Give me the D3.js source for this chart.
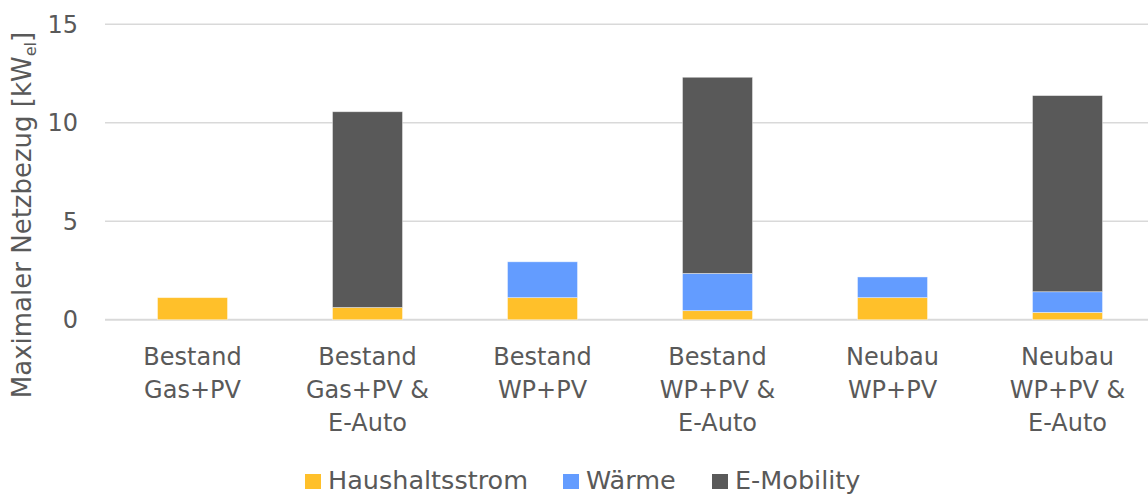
<!DOCTYPE html>
<html>
<head>
<meta charset="utf-8">
<script src="https://cdn.jsdelivr.net/npm/d3@7"></script>
<style>
  body { margin: 0; background: #fff; }
  text { font-family: "DejaVu Sans", sans-serif; fill: #595959; }
</style>
</head>
<body>
<script>
// chart data
var categories = [
    ["Bestand", "Gas+PV"],
    ["Bestand", "Gas+PV &", "E-Auto"],
    ["Bestand", "WP+PV"],
    ["Bestand", "WP+PV &", "E-Auto"],
    ["Neubau", "WP+PV"],
    ["Neubau", "WP+PV &", "E-Auto"]
];
var seriesNames = ["Haushaltsstrom", "Wärme", "E-Mobility"];
var haushaltsstrom = [1.12, 0.62, 1.12, 0.46, 1.12, 0.37];
var waerme = [0, 0, 1.82, 1.89, 1.05, 1.05];
var eMobility = [0, 9.94, 0, 9.96, 0, 9.96];
var yTicks = [0, 5, 10, 15];

var colors = ["#FFC02A", "#639CFF", "#595959"];

var width = 1148, height = 496;

var svg = d3.select("body").append("svg")
    .attr("width", width)
    .attr("height", height);

//build rows for the stack
var rows = categories.map(function(c, i){
    return { key: i, "Haushaltsstrom": haushaltsstrom[i], "Wärme": waerme[i], "E-Mobility": eMobility[i] };
});

var x = d3.scaleBand()
    .domain(d3.range(categories.length))
    .range([105, 1155])
    .paddingInner(0.6)
    .paddingOuter(0.3);

var y = d3.scaleLinear()
    .domain([0, 15])
    .range([319.7, 24.3]);

//gridlines
svg.selectAll(".grid")
    .data(yTicks)
    .enter()
    .append("line")
    .attr("class", "grid")
    .attr("x1", 105)
    .attr("x2", width)
    .attr("y1", function(d){ return y(d); })
    .attr("y2", function(d){ return y(d); })
    .attr("stroke", "#D9D9D9")
    .attr("stroke-width", function(d){ return d === 0 ? 2 : 1.4; });

//y tick labels
svg.selectAll(".ytick")
    .data(yTicks)
    .enter()
    .append("text")
    .attr("class", "ytick")
    .attr("x", 78)
    .attr("y", function(d){ return y(d); })
    .attr("dy", "0.36em")
    .attr("text-anchor", "end")
    .style("font-size", "24px")
    .text(function(d){ return d; });

//y axis title
var title = svg.append("text")
    .attr("transform", "translate(31,215) rotate(-90)")
    .attr("text-anchor", "middle")
    .style("font-size", "26px");
title.append("tspan").text("Maximaler Netzbezug [kW");
title.append("tspan").attr("dy", 5).style("font-size", "16px").text("el");
title.append("tspan").attr("dy", -5).text("]");

//stacked bars
var stack = d3.stack().keys(seriesNames);
var layers = svg.selectAll(".layer")
    .data(stack(rows))
    .enter()
    .append("g")
    .attr("class", "layer")
    .attr("fill", function(d, i){ return colors[i]; });

layers.selectAll("rect")
    .data(function(d){ return d.filter(function(s){ return s[1] - s[0] > 0; }); })
    .enter()
    .append("rect")
    .attr("x", function(d){ return x(d.data.key); })
    .attr("width", x.bandwidth())
    .attr("y", function(d){ return y(d[1]); })
    .attr("height", function(d){ return y(d[0]) - y(d[1]); })
    .attr("stroke", "#fff")
    .attr("stroke-opacity", 0.5)
    .attr("stroke-width", 0.8);

//category labels
var cat = svg.selectAll(".cat")
    .data(categories)
    .enter()
    .append("text")
    .attr("class", "cat")
    .attr("text-anchor", "middle")
    .style("font-size", "24px");

cat.selectAll("tspan")
    .data(function(d, i){ return d.map(function(t){ return { t: t, i: i }; }); })
    .enter()
    .append("tspan")
    .attr("x", function(d){ return x(d.i) + x.bandwidth() / 2; })
    .attr("y", function(d, j){ return 365 + j * 33; })
    .text(function(d){ return d.t; });

//legend
var legendX = [305, 563, 712];
var legend = svg.selectAll(".legend")
    .data(seriesNames)
    .enter()
    .append("g")
    .attr("class", "legend")
    .attr("transform", function(d, i){ return "translate(" + legendX[i] + ",0)"; });

legend.append("rect")
    .attr("x", 0)
    .attr("y", 474)
    .attr("width", 16)
    .attr("height", 15)
    .attr("fill", function(d, i){ return colors[i]; });

legend.append("text")
    .attr("x", 23)
    .attr("y", 489)
    .style("font-size", "25.5px")
    .text(function(d){ return d; });
</script>
</body>
</html>
